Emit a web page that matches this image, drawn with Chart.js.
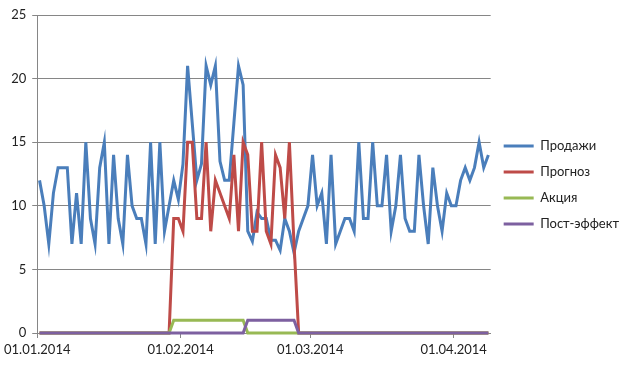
<!DOCTYPE html>
<html>
<head>
<meta charset="utf-8">
<script src="https://cdn.jsdelivr.net/npm/chart.js@4.4.1/dist/chart.umd.min.js"></script>
<style>
    html, body { margin: 0; padding: 0; background: #fff; }
    #wrap { width: 633px; height: 365px; position: relative; }
</style>
</head>
<body>
<div id="wrap"><canvas id="salesChart"></canvas></div>
<script>
// Daily values 01.01.2014 .. 08.04.2014 (one per day)
const sales = [
    12, 10, 7, 11, 13, 13, 13, 7, 11, 7,
    15, 9, 7, 13, 15, 7, 14, 9, 7, 14,
    10, 9, 9, 7, 15, 7, 15, 8, 10, 12,
    10.5, 13.3, 21, 16.5, 12, 13.3, 21, 19.5, 21, 13.5,
    12, 12, 16.5, 21, 19.5, 8, 7.2, 9.5, 9, 9,
    7.3, 7.3, 6.5, 9, 8, 6.3, 8, 9, 10, 14,
    10, 11, 7, 14, 7, 8, 9, 9, 8, 15,
    9, 9, 15, 10, 10, 14, 8, 10, 14, 9,
    8, 8, 14, 10, 7, 13, 10, 8, 11, 10,
    10, 12, 13, 12, 13, 15, 13, 14
];
const forecast = [
    0, 0, 0, 0, 0, 0, 0, 0, 0, 0,
    0, 0, 0, 0, 0, 0, 0, 0, 0, 0,
    0, 0, 0, 0, 0, 0, 0, 0, 0, 9,
    9, 8, 15, 15, 9, 9, 15, 8, 12, 11,
    10, 9, 14, 8, 15, 14, 8, 8, 15, 8,
    7, 14, 13, 9, 15, 7, 0, 0, 0, 0,
    0, 0, 0, 0, 0, 0, 0, 0, 0, 0,
    0, 0, 0, 0, 0, 0, 0, 0, 0, 0,
    0, 0, 0, 0, 0, 0, 0, 0, 0, 0,
    0, 0, 0, 0, 0, 0, 0, 0
];
const promo = [
    0, 0, 0, 0, 0, 0, 0, 0, 0, 0,
    0, 0, 0, 0, 0, 0, 0, 0, 0, 0,
    0, 0, 0, 0, 0, 0, 0, 0, 0, 1,
    1, 1, 1, 1, 1, 1, 1, 1, 1, 1,
    1, 1, 1, 1, 1, 0, 0, 0, 0, 0,
    0, 0, 0, 0, 0, 0, 0, 0, 0, 0,
    0, 0, 0, 0, 0, 0, 0, 0, 0, 0,
    0, 0, 0, 0, 0, 0, 0, 0, 0, 0,
    0, 0, 0, 0, 0, 0, 0, 0, 0, 0,
    0, 0, 0, 0, 0, 0, 0, 0
];
const postEffect = [
    0, 0, 0, 0, 0, 0, 0, 0, 0, 0,
    0, 0, 0, 0, 0, 0, 0, 0, 0, 0,
    0, 0, 0, 0, 0, 0, 0, 0, 0, 0,
    0, 0, 0, 0, 0, 0, 0, 0, 0, 0,
    0, 0, 0, 0, 0, 1, 1, 1, 1, 1,
    1, 1, 1, 1, 1, 1, 0, 0, 0, 0,
    0, 0, 0, 0, 0, 0, 0, 0, 0, 0,
    0, 0, 0, 0, 0, 0, 0, 0, 0, 0,
    0, 0, 0, 0, 0, 0, 0, 0, 0, 0,
    0, 0, 0, 0, 0, 0, 0, 0
];
const seriesNames = ['Продажи', 'Прогноз', 'Акция', 'Пост-эффект'];
const seriesColors = ['#4a7ebb', '#be4b48', '#98b954', '#7d60a0'];
// x axis: days since 01.01.2014, labels on the 1st of each month
const tickDays = [0, 31, 59, 90];
const tickLabels = ['01.01.2014', '01.02.2014', '01.03.2014', '01.04.2014'];

const font = { family: 'Lato', size: 13 };
const gridColor = '#868686';

// each day sits in the middle of its slot, like Excel's date axis
function toPoints(values) {
    return values.map((v, i) => ({ x: i + 0.5, y: v }));
}

const allSeries = [sales, forecast, promo, postEffect];
const datasets = allSeries.map((values, i) => ({
    label: seriesNames[i],
    data: toPoints(values),
    borderColor: seriesColors[i],
    backgroundColor: seriesColors[i],
    borderWidth: 3,
    pointRadius: 0,
    tension: 0,
    clip: false,
    order: allSeries.length - i   // later series on top, as in Excel
}));

// nudge the legend block up a little
const legendShift = {
    id: 'legendShift',
    afterLayout: function (chart) {
        chart.legend.top -= 5;
        chart.legend.bottom -= 5;
    }
};

const ctx = document.getElementById('salesChart').getContext('2d');
new Chart(ctx, {
    type: 'line',
    data: { datasets: datasets },
    plugins: [legendShift],
    options: {
        responsive: true,
        maintainAspectRatio: false,
        animation: false,
        layout: { padding: { top: 15, right: 4, bottom: 0, left: 0 } },
        scales: {
            x: {
                type: 'linear',
                min: 0,
                max: 98,
                afterBuildTicks: function (scale) {
                    scale.ticks = tickDays.map(d => ({ value: d }));
                },
                afterFit: function (scale) { scale.height = 32; },
                ticks: {
                    autoSkip: false,
                    maxRotation: 0,
                    padding: 4,
                    color: '#222',
                    font: font,
                    callback: function (value) {
                        return tickLabels[tickDays.indexOf(value)];
                    }
                },
                grid: { drawOnChartArea: false, tickLength: 5, color: gridColor },
                border: { color: gridColor }
            },
            y: {
                min: 0,
                max: 25,
                afterFit: function (scale) { scale.width = 37; },
                ticks: { stepSize: 5, padding: 6, color: '#222', font: font },
                grid: { tickLength: 5, color: gridColor },
                border: { color: gridColor }
            }
        },
        plugins: {
            legend: {
                position: 'right',
                labels: {
                    usePointStyle: true,
                    pointStyle: 'line',
                    pointStyleWidth: 30,
                    padding: 13,
                    color: '#222',
                    font: font,
                    sort: (a, b) => a.datasetIndex - b.datasetIndex
                }
            },
            tooltip: { enabled: false }
        }
    }
});
</script>
</body>
</html>
